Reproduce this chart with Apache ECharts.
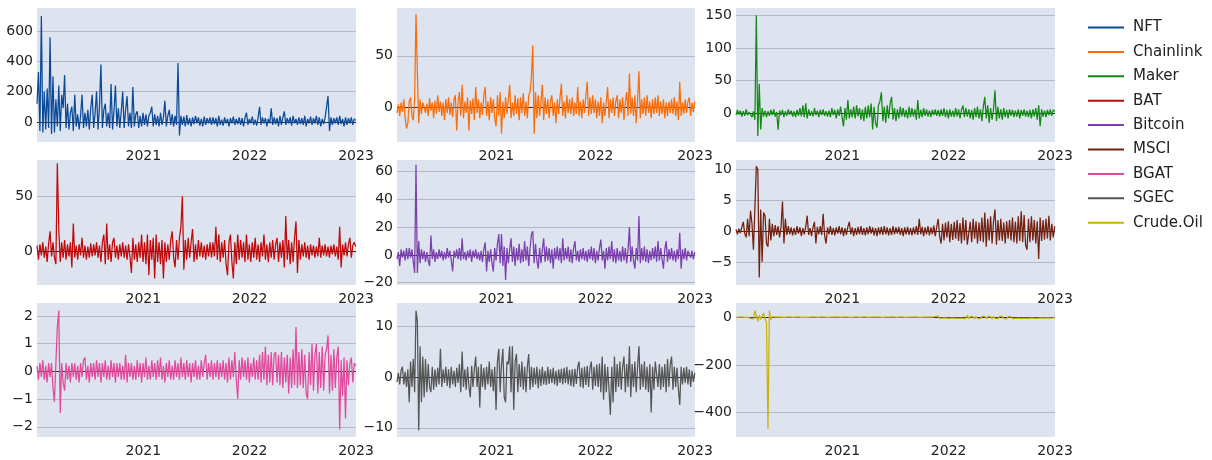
<!DOCTYPE html>
<html>
<head>
<meta charset="utf-8">
<script src="https://cdn.jsdelivr.net/npm/echarts@6/dist/echarts.min.js"></script>
<style>
  html, body { margin: 0; padding: 0; background: #ffffff; }
  #chart { width: 1212px; height: 460px; }
</style>
</head>
<body>
<div id="chart"></div>
<script>
// ---- DATA (one sample every 5 days from 2020-01-01) ----
const START_DATE = "2020-01-01";
const STEP_DAYS = 5;
const seriesNames = ["NFT", "Chainlink", "Maker", "BAT", "Bitcoin", "MSCI", "BGAT", "SGEC", "Crude.Oil"];
const yearTicks = [2020, 2021, 2022, 2023];

const nft = [
  120, 330, -60, 700, -70, 200, -50, 220, -40, 560, -80, 300, -70, 150, -30, 240, -60, 180, 90, 310,
  -40, 120, -50, 60, 100, -60, 180, -30, 50, -50, 40, 180, -40, 60, -30, 80, -50, 90, 180, -40,
  60, 200, -50, 100, 380, -40, 80, 120, -30, 60, -40, 250, -50, 70, 240, -30, 90, -40, 70, 200,
  -40, 80, 170, -30, 60, -40, 230, -30, 50, 70, -40, 40, -30, 60, -20, 50, -30, 40, 60, 100,
  -30, 50, -20, 40, -30, 60, -20, 30, 140, -30, 40, 80, -20, 50, -30, 40, -20, 390, -90, 40,
  -20, 35, -30, 45, -20, 25, -30, 30, -15, 40, -10, 30, -25, 20, -30, 35, -20, 25, -10, 30,
  -20, 30, -15, 25, -30, 40, -20, 15, -25, 30, -10, 20, -30, 25, -10, 35, -20, 20, -15, 30,
  -20, 25, -30, 30, 60, -20, 20, -10, 35, -20, 15, -25, 30, 100, -20, 30, -10, 25, -30, 20,
  -10, 90, -20, 30, -15, 25, -30, 40, -20, 30, 70, -20, 25, -10, 30, -25, 40, -10, 20, -20,
  30, -15, 25, -20, 40, -30, 20, -10, 35, -20, 25, -10, 40, -20, 30, -30, 20, -15, 30, 20,
  170, -60, 30, -20, 25, -10, 30, -20, 40, -15, 20, -30, 30, -20, 25, -10, 30, -20, 20, 10
];
const chainlink = [
  -5, 3, -8, 5, -4, 8, -10, -20, -15, 6, 10, -8, -12, 8, 90, 35, -15, 8, -6, 5,
  6, -5, 4, -8, 9, -3, 5, -10, 7, -6, 12, -4, 6, -8, 5, -12, 8, -5, 10, -7,
  5, -9, 8, 12, -22, 6, 15, -8, 22, -10, 6, -5, 10, -22, 7, -6, 9, -12, 20, -5,
  8, -10, 5, -7, 12, 20, -8, 6, -12, 10, -5, 8, -10, -18, 12, -8, 15, -25, 6, -10,
  10, -6, 8, 22, -10, 5, -8, 12, -6, 9, -12, 10, -5, 14, -8, 6, -10, 12, 15, 30,
  60, -25, 15, -10, 12, -8, 6, 22, -12, 10, -6, 8, -10, 6, 12, -8, 5, -15, 8, -6,
  10, 23, -8, 6, -10, 12, -5, 8, -6, 10, -8, 5, -6, 20, -8, 6, -10, 8, -5, 12,
  25, -8, 10, -6, 12, -5, 8, -10, 6, -8, 10, -15, 5, -8, 6, 20, -10, 8, -5, 10,
  -8, 6, 12, -10, 8, -5, 10, -12, 6, 15, -8, 33, -6, 10, -8, 12, -15, 8, 35, -10,
  8, -6, 10, -8, 12, -5, 6, -10, 8, -6, 10, -5, 12, -8, 6, -6, 8, -10, 5, -8,
  6, -5, 8, -6, 10, -8, 6, -12, 25, -8, 5, -6, 8, -5, 6, 10, -8, 5, -4, 6
];
const maker = [
  -3, 5, -2, 4, -5, 3, -4, 6, -3, 2, 5, -6, 3, -10, 150, -35, 45, -25, 8, -5,
  4, -6, 3, -4, 5, -3, 6, -5, 2, -25, 4, -3, 5, -6, 3, -4, 6, -2, 4, -5,
  3, -6, 5, -4, 8, -5, 12, -6, 15, -8, 6, -4, 3, -5, 8, -3, 4, -6, 5, -3,
  6, -4, 3, -5, 4, -6, 8, -3, 5, -8, 6, -4, 10, -6, -20, 8, -10, 20, -8, 6,
  -6, 10, -8, 12, -5, 8, -10, 6, -12, 10, -8, 12, -6, 15, -25, 10, -15, -22, 12, 18,
  32, -12, 10, -15, 12, -8, 15, 25, -10, 8, -12, 6, -8, 10, -5, 8, -6, 5, -8, 10,
  -6, 8, -5, 6, -10, 20, -8, 5, -6, 8, -4, 6, -5, 4, -6, 5, -3, 6, -4, 5,
  -5, 6, -4, 8, -6, 5, -8, 6, -5, 4, -6, 8, -5, 6, -8, 5, 12, -6, 8, -5,
  6, -8, 5, -10, 8, -6, 10, -8, 6, -12, 10, 25, -8, 12, -15, 8, -10, 6, 35, -12,
  10, -8, 6, -10, 8, -6, 5, -8, 6, -4, 5, -6, 4, -5, 6, -8, 5, -4, 6, -5,
  4, -6, 5, -8, 6, -5, 8, -10, 12, -20, 6, -5, 4, -6, 5, -3, 6, -4, 5, 3
];
const bat = [
  5, -8, 6, -4, 8, -6, 4, -10, 7, 18, -5, 8, -6, -12, 80, 20, -10, 8, -6, 10,
  -8, 6, -5, 8, -15, 25, -6, 5, -8, 6, -4, 12, -6, 5, -8, 4, -6, 7, -5, 6,
  -4, 8, -6, 5, -10, 8, 15, -12, 25, -8, 6, -10, 8, 12, -6, 5, -8, 6, -5, 8,
  -6, 5, -8, 6, -5, -20, 12, -8, 6, -10, 8, -6, 15, -10, 8, -12, 15, -22, 10, -8,
  12, -25, 15, -10, 8, -12, 10, -25, 8, -10, 6, -8, 10, 18, -6, -15, 10, -8, 12, 22,
  50, -17, 10, -8, 12, -6, 8, 20, -10, 6, -8, 10, -5, 8, -6, 5, -8, 6, -5, 8,
  -6, 8, -5, 22, -8, 15, -10, 8, -6, 10, -12, -22, 8, 15, -10, -25, 8, -12, 15, -8,
  10, -6, 8, -10, 15, -8, 6, -10, 8, -6, 12, -8, 6, -10, 8, -5, 15, -8, 6, -10,
  8, -6, 10, -8, 6, 12, -10, 8, -6, 10, -15, 32, -8, 10, -12, 8, -10, 12, 27, -20,
  10, -8, 6, -5, 8, -6, 5, -8, 6, -4, 5, -6, 4, -5, 12, -6, 5, -4, 6, -5,
  4, -6, 5, -3, 6, -5, 4, -8, 22, -15, 6, -4, 8, -5, 6, 12, -6, 5, 8, 4
];
const bitcoin = [
  -3, 2, -8, 4, -2, 3, -4, 5, -3, 5, -2, 4, -5, -13, 65, -13, 10, -6, 4, -3,
  3, -5, 2, -4, -8, 14, -3, 4, -5, 2, -3, 4, -2, 3, -4, 2, -3, 5, -2, 3,
  -4, -12, 3, -2, 4, -3, 5, -4, 12, -3, 2, -4, 3, -2, 4, -5, 3, -2, 4, -3,
  2, -4, 3, -5, 4, 9, -12, 3, -5, 4, -6, -12, 5, -4, 8, 15, -6, 15, -8, 6,
  -18, 5, -6, 4, 12, -5, 6, -8, 5, -4, 8, -6, 4, -5, 10, -4, 6, -8, 5, 15,
  17, -6, 8, -4, -10, 5, -6, 4, 12, -5, 6, -4, 5, -6, 4, -10, 5, -3, 6, -4,
  5, -6, 12, -4, 5, -3, 6, -5, 4, -6, 5, 10, -4, 3, -5, 4, -3, 5, -4, 3,
  -5, 4, -3, 6, -4, 5, -6, 3, -4, 5, 11, -4, 3, -10, 5, -4, 6, -3, 10, -5,
  4, -6, 5, -4, 3, -5, 6, -4, 5, -6, 4, 20, -5, 6, -4, -10, 5, -4, 28, -6,
  5, -4, 6, -5, 4, -6, 3, -4, 5, -3, 6, -5, 10, -4, 5, -3, -10, 4, 10, -5,
  4, -3, 5, -4, 3, -5, 4, -3, 16, -10, 4, -3, 5, -4, 3, 4, -2, 3, -3, 2
];
const msci = [
  0.3, -0.5, 0.4, -0.3, 0.6, 1.5, -0.4, -1, 2, -0.8, 3.3, 1.2, -3, -3, 10.5, 10, -7.5, 3.5, -5, 3,
  2.5, -2, -2.5, 2, -1.5, 1.2, -0.8, 1, -0.6, 0.8, -1, 0.7, 4.8, -2, 2, -0.6, 0.8, -0.5, 0.6, -0.7,
  0.5, -0.6, 0.8, -0.4, 0.6, -0.8, 0.5, -0.5, 0.7, 2.5, -0.6, 0.5, -0.8, 0.6, 1.5, -2, 0.7, -0.5, 0.8, -0.6,
  2.8, -0.7, -2, 0.6, -0.5, 0.8, -0.6, 0.5, -0.7, 0.6, -0.4, 0.8, -0.5, 0.6, -0.8, 0.5, -0.6, 0.7, 1.5, -0.5,
  0.6, -0.8, 0.5, -0.6, 0.7, -0.5, 0.8, -0.6, 0.5, -0.7, 0.6, -0.5, 0.8, -0.4, 0.6, -0.7, 0.5, -0.8, 0.6, -0.5,
  0.7, -0.6, 0.8, -0.5, 0.6, -0.7, 0.5, -0.6, 0.8, -0.5, 0.6, -0.4, 0.7, -0.6, 0.5, -0.8, 0.6, -0.5, 0.7, -0.6,
  0.5, -0.7, 0.6, -0.5, 0.8, -0.6, 2, -0.5, 0.7, -0.8, 0.6, -0.5, 0.8, -0.7, 0.6, -0.5, 0.9, -0.8, 0.7, 2,
  -0.8, -2, 1.2, -1.5, 1.4, -1, 1.6, -1.8, 1.2, -1.4, 1.5, -1.2, 1.8, -1.6, 1.3, -2, 2.2, -1.5, 1.8, -2.2,
  -2.5, 1.5, -1.8, 2, -1.2, 1.6, -2, 1.4, -1.6, 2.2, -1.8, 3, -2.5, 2, -1.5, 2.4, -2, 1.6, 3.5, -2.2,
  1.8, -1.5, 2, -1.6, 1.4, -2, 1.6, -1.2, 1.8, -1.5, 2.2, -1.8, 1.5, -2, 2.4, -1.6, 3.2, -1.8, 2.6, -2.2,
  -3, 2, -1.8, 2.4, -1.5, 1.8, -2, 1.6, -4.5, 2.2, -1.6, 1.8, -1.4, 2, -1.2, 2.5, -1.5, 1.2, -1, 0.8
];
const bgat = [
  0.2, -0.3, 0.3, -0.2, 0.4, -0.3, 0.2, -0.4, 0.3, -0.2, 0.3, -0.6, -1.1, 0.3, 1.6, 2.2, -1.5, 0.3, -0.4, -0.7,
  0.3, -0.3, 0.2, -0.4, 0.3, -0.2, 0.3, -0.3, 0.2, -0.4, 0.3, -0.2, 0.4, 0.5, -0.3, 0.2, -0.4, 0.3, -0.2, 0.3,
  -0.3, 0.4, -0.2, 0.3, -0.4, 0.3, -0.2, 0.4, -0.3, 0.2, -0.3, 0.4, -0.2, 0.3, -0.4, 0.3, -0.2, 0.3, -0.3, 0.2,
  -0.3, 0.6, -0.4, 0.3, -0.2, 0.3, -0.3, 0.2, -0.3, 0.4, -0.2, 0.3, -0.4, 0.3, -0.2, 0.5, -0.3, 0.2, -0.3, 0.4,
  -0.2, 0.3, -0.3, 0.4, -0.2, 0.5, -0.3, 0.2, -0.4, 0.3, -0.2, 0.4, -0.3, 0.2, -0.3, 0.4, -0.2, 0.3, -0.3, 0.5,
  -0.2, 0.3, -0.3, 0.4, -0.2, 0.3, -0.4, 0.3, -0.2, 0.4, -0.3, 0.2, -0.3, 0.4, -0.2, 0.3, 0.6, -0.3, 0.3, -0.2,
  0.4, -0.3, 0.3, -0.2, 0.4, -0.3, 0.3, -0.2, 0.4, -0.3, 0.3, -0.4, 0.5, -0.3, 0.4, -0.2, 0.7, -0.3, -1.0, 0.4,
  -0.3, 0.5, -0.2, 0.4, -0.3, 0.5, -0.4, 0.3, -0.2, 0.5, -0.3, 0.4, -0.3, 0.6, -0.4, 0.7, -0.3, 0.9, -0.5, 0.6,
  -0.4, 0.7, -0.5, 0.6, 0.7, -0.4, 0.6, -0.5, 0.7, -0.6, 0.5, -0.4, 0.6, -0.8, 0.5, -0.6, 0.8, -0.5, 1.6, -0.6,
  0.7, -0.5, 0.8, -0.6, 0.6, -0.8, -1.0, 0.7, -0.5, 1.0, -0.7, 0.6, 1.0, -0.8, 0.7, -0.6, 0.9, -0.7, 0.6, 0.8,
  1.3, -0.8, 0.6, -0.7, 0.8, -0.6, 0.5, 0.9, -2.1, 0.4, -0.9, 0.5, -1.7, 0.4, -0.5, 0.3, 0.5, -0.4, 0.3, 0.2
];
const sgec = [
  -1, 0.8, -1.5, 1.2, 2, -1.5, 1, -2, 1.5, -5, 3, -2, 3.5, -3, 13, 11, -10.5, 6, -5, 4,
  -4, 3.5, -3, 2.5, -2, -3, 2, -2.5, 1.5, -2, 1.8, -1.5, 5.5, -2, 1.5, -1.2, 2, -1.8, 1.5, -2.2,
  2, -1.5, 1.2, -2, 1.8, -1.2, 2.5, -3, 5, -2, 1.5, -2.5, 2, -1.8, -4, 2.2, -2, 1.5, 4, -2,
  2, -6, 2.5, -2, 1.8, -2.5, 2, -1.5, 3, -2, 1.5, -2.8, 2, -6.5, 3, 5.5, -3, 2.5, 5.5, -4,
  -5, 3, 2.5, 6, -3, 6, -6.5, 3, 4.5, -3, 2.5, -2, 3, -2.5, 2, -3, 2, 4.5, -2.5, 2,
  -2, 1.8, -1.5, 2, -2.2, 1.5, -1.8, 2, -1.5, 1.2, -1.6, 2, -1.4, 1.5, -1.2, 1.8, -1.5, 1.2, -1.8, 1.5,
  -1.2, 1.6, -1.5, 1.8, -1.2, 2, -1.5, 1.4, -1.8, 1.5, -2, 1.6, -1.4, 2, 3, -2, 1.8, -2.2, 2, -1.6,
  2.2, -2, 1.8, 3, -2.5, 2, -1.8, 2.4, -2, 2.6, -3, 4, -4.5, 2.5, -3, 2, -2.5, -7.5, 2, -5,
  4, -3, 2.5, -2, 3, -2.5, 2, 4, -3, 2.5, -2, 6, -4, 2.5, -2, 3, -3, 2, 6, -2.5,
  2.5, -2, 3, -2.5, 2, -3, 2.5, -7, 2, -2.5, 3, 3, -2, 2.5, -2.5, 2, -2, 2.5, -3, 3.5,
  -2, 2.5, 4, -2.5, 2, -2, 1.8, -2.5, -5.5, 2, -1.5, 1.8, -1.2, 2, -1.5, 1.5, -2, 1.2, -1, 0.8
];
const crudeOil = [
  1, -2, 2, -1, 3, -2, 1, -3, 2, -1, -3, 4, -5, 30, 25, -15, 10, -8, 6, 20,
  -6, -20, -470, 30, -10, 5, -3, 2, -2, 3, -1, 2, -2, 1, -3, 2, -1, 3, -2, 1,
  -2, 2, -1, 3, -2, 1, -2, 2, -3, 1, -1, 2, -2, 3, -1, 2, -2, 1, -2, 3,
  -1, 2, -2, 1, -3, 2, -1, 2, -2, 3, -1, 2, -2, 1, -2, 3, -1, 2, -3, 1,
  -2, 2, -1, 3, -2, 1, -2, 2, -1, 3, -2, 1, -3, 2, -1, 2, -2, 3, -1, 2,
  -2, 1, -3, 2, -1, 2, -2, 3, -1, 2, -2, 1, -2, 3, -1, 2, -2, 1, -3, 2,
  -1, 2, -2, 3, -1, 2, -2, 1, -3, 2, -1, 2, -2, 3, -1, 2, -4, 5, -3, 8,
  -3, 2, -2, 3, -1, 2, -3, 4, -2, 3, -2, 2, -3, 3, -2, 4, -3, 5, -4, 10,
  -4, 5, -3, 4, -5, 6, -3, 4, -4, 5, -3, 6, -4, 5, -3, 4, -5, 6, -3, 4,
  -4, 5, -3, 6, -4, 3, -5, 4, -3, 5, -4, 3, -3, 4, -2, 3, -3, 4, -2, 3,
  -3, 2, -2, 3, -2, 2, -3, 3, -2, 2, -1, 3, -2, 2, -1, 2, -2, 1, -1, 2
];
const seriesValues = [nft, chainlink, maker, bat, bitcoin, msci, bgat, sgec, crudeOil];

// ---- LAYOUT / STYLE ----
const FONT = "DejaVu Sans";
const colors = ["#0b4a98", "#fa6e0a", "#128a12", "#c00a0a", "#7b3fae", "#74200f", "#e14a9c", "#555555", "#c9b30a"];
const colLeft = [37, 397, 736], colWidth = [319, 298, 319];
const rowTop = [8, 160, 303], rowHeight = [134, 125, 134];
const yRange = [
  [-133, 753, 200], [-33, 96, 50], [-44, 161, 50],
  [-31, 83, 50], [-21.7, 68.4, 20], [-8.7, 11.5, 5],
  [-2.37, 2.47, 1], [-11.8, 14.5, 10], [-504, 62, 200]
];

function yearFrac(t) {
  const d = new Date(t);
  const y = d.getUTCFullYear();
  const a = Date.UTC(y, 0, 1), b = Date.UTC(y + 1, 0, 1);
  return y + (t - a) / (b - a);
}
const t0 = Date.parse(START_DATE + "T00:00:00Z");
function toPoints(vals) {
  return vals.map((v, i) => [yearFrac(t0 + i * STEP_DAYS * 86400000), v]);
}

const grids = [], xAxes = [], yAxes = [], series = [];
for (let k = 0; k < 9; k++) {
  const r = Math.floor(k / 3), c = k % 3;
  grids.push({
    left: colLeft[c], top: rowTop[r], width: colWidth[c], height: rowHeight[r],
    show: true, backgroundColor: "#dde3ef", borderWidth: 0
  });
  xAxes.push({
    gridIndex: k, type: "value",
    min: yearTicks[0], max: yearTicks[yearTicks.length - 1], interval: 1,
    axisLine: { show: false }, axisTick: { show: false }, splitLine: { show: false },
    axisLabel: {
      fontFamily: FONT, fontSize: 14, color: "#222", margin: 7,
      showMinLabel: false, showMaxLabel: true,
      formatter: v => (v === yearTicks[0] ? "" : String(v))
    }
  });
  const [mn, mx, iv] = yRange[k];
  yAxes.push({
    gridIndex: k, type: "value", min: mn, max: mx,
    minInterval: iv, maxInterval: iv, splitNumber: 5,
    axisLine: { show: false }, axisTick: { show: false },
    axisLabel: {
      fontFamily: FONT, fontSize: 14, color: "#222", margin: 4,
      showMinLabel: false, showMaxLabel: false,
      formatter: v => String(v).replace("-", "\u2212")
    },
    splitLine: { show: true, showMinLine: false, showMaxLine: false, lineStyle: { color: "#b4b8c6", width: 1.2 } }
  });
  series.push({
    name: seriesNames[k], type: "line", xAxisIndex: k, yAxisIndex: k,
    data: toPoints(seriesValues[k]), symbol: "none", showSymbol: false,
    lineStyle: { width: 1.25, color: colors[k] }, itemStyle: { color: colors[k] },
    clip: true, z: 3,
    markLine: {
      silent: true, symbol: "none", label: { show: false }, animation: false,
      lineStyle: { color: "#2e2e2e", width: 1, type: "solid" },
      data: [{ yAxis: 0 }], z: 2
    }
  });
}

const chart = echarts.init(document.getElementById("chart"), null, { renderer: "canvas" });
chart.setOption({
  animation: false,
  backgroundColor: "#ffffff",
  grid: grids, xAxis: xAxes, yAxis: yAxes, series: series,
  legend: {
    orient: "vertical", left: 1083, top: 15,
    itemWidth: 36, itemHeight: 14, itemGap: 9.4,
    icon: "path://M0,0 L36,0 L36,2 L0,2 Z",
    symbolKeepAspect: true,
    data: seriesNames,
    textStyle: { fontFamily: FONT, fontSize: 15, color: "#222", padding: [0, 0, 0, 4] }
  }
});
</script>
</body>
</html>
